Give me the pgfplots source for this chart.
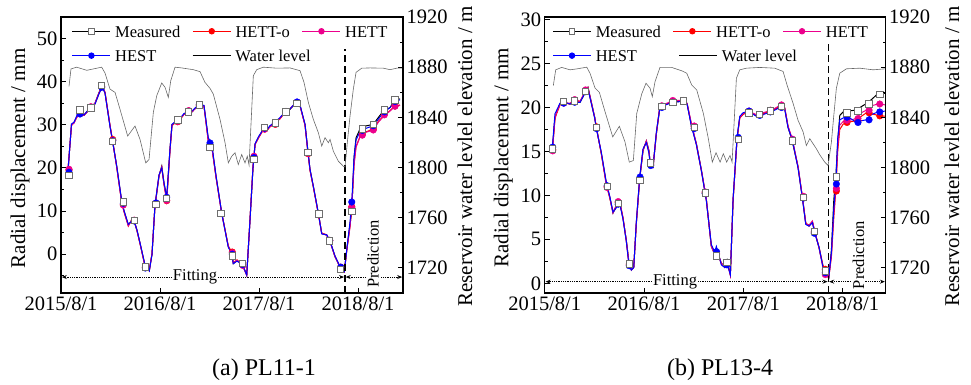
\documentclass[border=0pt]{standalone}
\usepackage{fontspec}
\setmainfont{Liberation Serif}
\usepackage{pgfplots}
\usepackage{pgfplotstable}
\pgfplotsset{compat=1.18}
\usetikzlibrary{arrows.meta}
\definecolor{wl}{RGB}{105,105,105}
\definecolor{sqedge}{RGB}{110,110,110}

\pgfplotstableread{
x meas hetto hett hest
0.85 19.5 19.6 19.7 19.2
1.27 30.0 29.8 29.9 30.2
1.58 30.5 30.6 30.4 30.6
1.94 32.0 31.8 31.9 32.2
2.30 32.8 32.5 32.6 32.5
2.79 32.2 32.3 32.2 32.3
3.27 33.2 33.3 33.2 33.4
3.64 34.0 34.0 34.2 33.9
4.12 35.0 34.9 35.0 34.8
4.61 37.5 37.3 37.4 37.2
4.97 39.0 38.8 38.9 38.7
5.33 37.5 37.6 37.5 37.4
5.94 29.7 29.9 29.8 29.6
6.24 26.3 26.6 26.4 26.3
6.75 20.4 20.2 20.3 20.5
7.36 12.2 12.0 11.9 12.3
7.64 10.0 9.8 9.9 10.1
8.16 6.8 6.5 6.6 6.9
8.48 7.6 7.7 7.6 7.5
8.85 7.9 7.8 7.9 7.7
9.21 5.5 5.4 5.5 5.6
9.58 2.5 2.4 2.5 2.6
10.18 -2.6 -2.8 -2.7 -2.5
10.70 -3.7 -3.9 -3.8 -3.9
11.03 0.0 0.2 0.1 -0.1
11.39 11.1 11.3 11.2 11.4
11.88 18.1 18.3 18.2 18.4
12.21 20.4 20.1 20.2 20.0
12.48 16.5 16.2 16.3 16.6
12.81 13.0 12.4 12.5 13.2
13.21 24.3 24.0 24.1 24.4
13.45 30.0 29.8 29.9 30.1
13.82 30.5 30.4 30.6 30.7
14.42 31.3 31.2 31.3 31.5
14.91 32.5 32.4 32.5 32.6
15.43 33.2 33.2 33.3 33.0
15.88 33.0 33.1 33.0 33.2
16.36 34.0 33.9 34.0 34.1
16.85 34.6 34.6 34.5 34.7
17.33 34.4 34.3 34.4 34.5
17.85 26.6 26.3 26.2 27.0
18.27 25.1 25.0 24.9 25.6
18.79 18.0 17.8 17.9 18.2
19.48 9.5 9.5 9.4 9.5
20.28 1.7 1.9 1.8 1.6
20.69 0.2 0.5 0.3 0.1
20.88 -2.2 -2.0 -2.1 -2.2
21.33 -1.5 -1.3 -1.4 -1.6
21.98 -2.2 -2.5 -2.6 -2.4
22.51 -4.9 -4.8 -4.9 -4.8
22.91 8.0 8.2 8.1 8.0
23.27 20.0 20.3 20.4 20.1
23.52 25.5 25.4 25.5 25.6
23.92 27.0 26.9 27.0 27.2
24.52 29.0 28.8 28.9 29.0
24.93 28.6 28.7 28.6 28.8
25.33 29.7 29.5 29.6 29.8
25.94 30.7 30.3 30.4 30.6
26.55 31.5 31.4 31.5 31.7
27.15 32.9 32.9 33.0 33.0
27.76 33.6 33.7 33.8 33.7
28.57 35.3 35.2 35.3 35.4
28.97 34.4 34.5 34.4 34.6
29.58 30.0 29.8 29.9 30.1
29.90 24.3 24.0 24.1 24.3
30.18 19.6 19.4 19.5 19.7
30.58 15.7 15.6 15.7 15.8
31.19 9.5 9.3 9.4 9.5
31.60 4.8 4.9 4.8 4.7
32.21 4.4 4.5 4.4 4.5
32.61 2.9 3.0 2.9 3.0
33.21 -0.6 -0.5 -0.6 -0.4
33.82 -3.0 -2.9 -3.0 -2.9
34.34 -4.1 -4.0 -4.1 -4.0
34.63 0.9 0.9 0.8 1.0
35.03 7.0 6.5 6.4 7.5
35.24 10.0 11.0 10.9 12.1
35.52 22.5 21.0 20.8 22.5
35.76 27.0 25.0 24.8 26.5
36.24 29.0 27.3 27.2 28.4
36.52 29.3 27.8 27.6 28.7
36.85 29.7 28.3 28.2 29.1
37.85 30.1 29.0 28.8 29.8
38.46 31.7 30.8 30.6 31.3
39.07 33.2 32.0 31.9 32.8
39.88 34.0 33.3 33.2 34.0
40.48 35.8 34.4 34.3 35.4
41.09 36.0 34.6 34.5 35.8
}\lineA

\pgfplotstableread{
x meas hetto hett hest
0.97 18.3 19.5 19.7 19.0
2.30 33.4 32.6 32.7 32.5
3.62 33.9 34.0 34.2 33.9
4.93 39.1 38.8 38.9 38.7
6.27 26.1 26.6 26.4 26.3
7.55 12.1 11.5 11.4 11.8
8.88 7.8 7.8 7.9 7.7
10.22 -3.0 -3.1 -3.0 -3.2
11.52 11.5 11.8 11.7 11.9
12.81 12.9 12.4 12.5 13.2
14.15 31.1 30.7 30.8 31.0
15.48 33.0 33.2 33.3 33.0
16.76 34.6 34.6 34.5 34.7
18.06 24.7 25.0 25.0 25.8
19.39 9.4 9.5 9.4 9.5
20.76 -0.4 0.5 0.3 0.0
22.02 -2.1 -2.5 -2.6 -2.4
23.39 22.0 22.6 22.7 22.4
24.69 29.4 29.0 29.0 29.2
25.98 30.4 30.1 30.2 30.4
27.27 33.0 33.0 33.1 33.1
28.61 35.0 35.2 35.2 35.3
29.94 23.6 23.3 23.4 23.6
31.27 9.3 9.1 9.2 9.3
32.57 3.1 3.2 3.1 3.2
33.90 -3.6 -3.0 -3.1 -3.0
35.24 9.9 11.0 10.8 12.1
36.52 29.0 27.8 27.6 28.7
37.85 30.1 29.0 28.8 29.8
39.19 33.4 32.5 32.3 33.0
40.48 35.8 34.4 34.3 35.4
}\markA

\pgfplotstableread{
x wl
0.97 1864.7
1.21 1878.6
1.90 1880.0
3.12 1877.5
3.92 1878.6
4.93 1880.0
5.33 1875.4
5.94 1862.5
6.55 1859.9
7.15 1846.5
8.08 1825.1
8.97 1833.1
9.58 1822.4
10.27 1803.7
10.67 1806.4
11.19 1843.9
11.60 1857.2
12.21 1867.4
12.61 1863.9
13.01 1855.9
13.30 1869.2
13.82 1880.0
14.63 1879.4
16.04 1878.0
16.85 1876.4
17.45 1867.9
18.06 1863.1
18.46 1858.5
19.27 1838.5
19.88 1819.8
20.28 1803.7
20.69 1809.0
21.09 1811.8
21.49 1802.4
21.90 1810.4
22.30 1803.7
22.58 1809.0
22.79 1802.0
23.31 1873.2
23.72 1878.0
24.52 1880.0
26.14 1879.2
27.76 1879.4
28.97 1877.2
29.45 1867.9
29.98 1851.9
30.58 1838.5
31.19 1827.8
31.60 1817.1
32.00 1823.8
32.40 1819.8
32.61 1822.4
33.01 1813.0
33.62 1805.0
34.22 1801.0
34.42 1800.5
34.70 1819.8
35.03 1841.1
35.43 1862.5
35.76 1875.9
36.45 1879.2
37.45 1879.4
39.07 1879.2
39.88 1878.0
40.69 1879.2
41.30 1879.2
}\waterA

\pgfplotstableread{
x meas hetto hett hest
0.92 15.2 15.0 14.9 15.4
1.24 18.9 18.7 18.8 19.3
1.40 19.3 19.2 19.3 19.6
1.85 20.45 20.3 20.4 20.5
2.33 20.6 20.5 20.5 20.6
3.06 20.4 20.4 20.5 20.4
3.63 20.7 20.8 20.9 20.6
4.27 20.6 20.7 20.7 20.6
4.95 21.8 21.9 22.0 21.8
5.23 22.3 22.2 22.3 22.1
6.04 18.9 18.8 18.9 18.8
6.24 17.7 17.8 17.7 17.6
6.84 14.8 14.7 14.8 14.9
7.44 11.4 11.3 11.2 11.5
7.86 9.8 9.7 9.8 9.9
8.25 8.0 8.1 8.0 8.1
8.65 8.7 8.8 8.9 8.6
9.06 9.2 9.3 9.3 9.1
9.46 7.4 7.5 7.4 7.3
9.86 4.9 4.8 4.9 4.8
10.19 2.3 2.1 2.2 2.0
10.47 1.7 1.5 1.6 1.5
10.76 1.9 1.8 1.9 1.8
11.07 6.8 6.9 6.8 7.0
11.48 11.9 12.0 11.9 12.1
11.88 15.1 15.2 15.1 15.3
12.28 16.2 16.1 16.2 16.0
12.60 15.1 14.9 15.0 14.8
12.76 13.4 13.5 13.6 13.4
13.09 13.25 13.3 13.2 13.2
13.49 17.0 17.1 17.0 17.2
13.90 19.9 20.0 20.1 19.9
14.30 20.3 20.2 20.3 20.2
15.51 20.6 20.7 20.8 20.6
16.71 20.75 20.8 20.8 20.7
17.20 20.45 20.4 20.5 20.4
17.72 18.0 18.1 18.2 17.9
18.32 15.9 15.8 15.9 15.8
18.93 12.9 12.8 12.9 12.8
19.53 9.5 9.5 9.6 9.4
20.13 4.2 4.3 4.2 4.4
20.54 3.3 3.4 3.3 3.6
20.74 4.0 3.9 3.8 4.2
21.34 2.3 2.2 2.3 2.1
21.75 1.9 1.8 1.9 1.8
22.03 2.65 2.5 2.4 2.3
22.43 0.95 1.0 0.9 1.0
22.76 9.5 9.4 9.5 9.6
23.24 16.5 16.4 16.5 16.6
23.57 18.9 18.8 18.9 19.0
23.96 19.3 19.2 19.3 19.4
24.57 19.5 19.5 19.6 19.6
25.57 19.1 19.1 19.2 19.0
26.38 19.3 19.3 19.4 19.2
27.38 19.6 19.6 19.7 19.5
28.59 20.3 20.2 20.3 20.1
29.00 19.9 19.9 20.0 19.8
29.40 17.8 17.8 17.9 17.7
29.92 16.1 16.3 16.4 16.3
30.61 13.25 13.2 13.3 13.1
31.13 9.8 9.8 9.9 9.7
31.54 6.8 6.9 6.8 6.7
31.94 6.6 6.5 6.6 6.5
32.34 7.0 7.0 7.1 6.9
32.63 5.9 5.8 5.9 5.7
33.15 4.0 4.1 4.0 4.1
33.63 1.9 2.0 1.7 1.8
34.03 1.1 1.3 0.9 1.0
34.32 0.6 0.7 0.6 0.7
34.64 3.8 3.0 3.2 3.5
34.93 9.5 7.5 8.0 8.5
35.17 12.1 10.5 10.8 11.3
35.40 16.0 15.0 15.5 16.5
35.65 19.1 17.5 18.0 18.6
36.05 19.5 18.1 18.4 18.8
36.45 19.6 18.3 18.55 18.9
37.05 19.65 18.4 18.6 18.7
37.66 19.7 18.5 18.75 18.3
38.25 20.1 19.0 19.4 18.5
38.87 20.45 19.4 19.7 18.6
39.47 20.9 19.3 20.2 19.2
40.28 21.6 19.1 20.4 19.5
41.20 21.6 19.0 20.3 19.6
}\lineB

\pgfplotstableread{
x meas hetto hett hest
0.97 15.3 15.2 15.07 15.5
2.30 20.7 20.6 20.5 20.5
3.62 20.75 20.8 20.9 20.6
4.93 21.8 21.9 22.0 21.8
6.27 17.7 17.8 17.7 17.6
7.55 11.0 11.0 10.9 11.1
8.88 9.1 9.2 9.3 9.0
10.22 2.2 2.1 2.2 2.0
11.52 11.7 11.9 11.8 12.1
12.81 13.7 13.5 13.6 13.4
14.15 20.1 20.1 20.2 20.0
15.48 20.6 20.7 20.8 20.6
16.76 20.75 20.8 20.8 20.7
18.06 17.7 17.8 17.9 17.6
19.39 10.3 10.3 10.4 10.2
20.76 3.1 3.4 3.3 3.6
22.02 2.4 2.3 2.2 2.1
23.39 16.4 16.4 16.5 16.6
24.69 19.4 19.5 19.6 19.6
25.98 19.2 19.2 19.2 19.1
27.27 19.6 19.6 19.7 19.5
28.61 20.1 20.2 20.3 20.0
29.94 16.2 16.3 16.4 16.3
31.27 9.8 9.8 9.9 9.7
32.57 5.9 5.8 5.9 5.7
33.90 1.4 1.6 1.0 1.2
35.24 12.1 10.5 10.8 11.3
36.52 19.4 18.3 18.55 18.9
37.85 19.6 18.5 18.75 18.3
39.19 20.4 19.4 19.7 18.6
40.48 21.5 19.05 20.4 19.5
}\markB

\pgfplotstableread{
x wl
1.04 1865.3
1.33 1877.9
2.05 1879.8
3.06 1877.9
3.94 1878.7
5.08 1880.0
5.47 1875.2
6.08 1863.4
6.60 1860.0
7.29 1844.5
8.22 1824.4
9.02 1832.9
9.70 1820.4
10.22 1804.3
10.71 1805.6
11.12 1843.1
11.72 1858.6
12.24 1867.2
12.73 1863.2
13.00 1856.5
13.33 1868.5
13.93 1879.8
15.35 1879.8
16.56 1877.1
17.16 1875.2
17.76 1865.8
18.37 1861.8
19.17 1843.1
19.77 1823.0
20.25 1804.3
20.70 1811.8
21.19 1804.3
21.58 1811.0
21.99 1804.3
22.39 1809.6
22.64 1804.3
23.16 1871.2
23.57 1877.9
24.36 1879.2
25.98 1879.8
27.80 1879.2
28.80 1876.6
29.28 1865.8
30.01 1851.1
30.61 1837.7
31.22 1828.4
31.61 1817.6
32.03 1823.0
32.42 1819.0
32.82 1815.0
33.23 1810.2
33.84 1804.3
34.24 1801.6
34.64 1820.4
34.93 1841.7
35.24 1863.2
35.65 1875.2
36.45 1878.7
38.07 1879.2
39.68 1877.9
41.15 1878.7
}\waterB

\pgfplotsset{
  common/.style={
    scale only axis, width=342pt, height=276pt,
    xmin=0,
    /pgf/number format/assume math mode=true,
    /pgf/number format/1000 sep={},
    tick label style={font=\fontsize{20.5}{24}\selectfont},
    label style={font=\fontsize{21}{25}\selectfont},
    major tick length=5pt, minor tick length=3pt,
    tick align=inside,
    every tick/.style={black, line width=0.9pt},
    axis line style={line width=1.3pt},
    clip=false,
    legend cell align=left,
  },
  mainax/.style={
    common,
    xtick={0,12,24,36},
    xticklabels={2015/8/1,2016/8/1,2017/8/1,2018/8/1},
    xtick pos=bottom, ytick pos=left,
    ylabel={Radial displacement / mm},
    legend columns=3,
  },
  waterax/.style={
    common,
    axis x line=none, axis y line*=right,
    ymin=1700, ymax=1920,
    ytick={1720,1760,1800,1840,1880,1920},
    minor ytick={1700,1740,1780,1820,1860,1900},
    ylabel={Reservoir water levlel elevation / m},
  },
  legsty/.style={draw=none, fill=none, inner sep=0pt,
    font=\fontsize{16.5}{19}\selectfont, row sep=11.9pt,
    nodes={inner sep=0pt, text height=12.5pt, text depth=0pt},
    /tikz/every odd column/.append style={column sep=4.3pt},
    /tikz/every even column/.append style={column sep=12pt}},
  lmeas/.style={black, line width=1pt},
  lhetto/.style={red, line width=1pt},
  lhett/.style={magenta, line width=1pt},
  lhest/.style={blue, line width=1pt},
  smeas/.style={only marks, mark=square*, mark size=3.2pt, mark options={fill=white, draw=sqedge, line width=0.9pt}},
  shetto/.style={only marks, mark=*, mark size=3.3pt, mark options={fill=red, draw=red}},
  shett/.style={only marks, mark=*, mark size=3.3pt, mark options={fill=magenta, draw=magenta}},
  shest/.style={only marks, mark=*, mark size=3.3pt, mark options={fill=blue, draw=blue}},
}

\begin{document}
\begin{tikzpicture}
\useasboundingbox (0pt,0pt) rectangle (971pt,385pt);

% ---------------- (a) ----------------
\begin{axis}[mainax, at={(61pt,92pt)}, anchor=south west,
  xmax=41.45, ymin=-9, ymax=55,
  ytick={0,10,...,50}, minor ytick={-5,5,15,25,35,45,55},
  ylabel style={at={(axis description cs:-0.12,0.488)}, anchor=center},
  legend style={legsty, at={(axis description cs:0.0313,0.9717)}, anchor=north west},
  legend image code/.code={\draw[mark repeat=2,mark phase=2,#1] plot coordinates {(0pt,0pt) (19pt,0pt) (38pt,0pt)};},
]
\addlegendimage{lmeas, mark=square*, mark size=2.8pt, mark options={fill=white, draw=sqedge, line width=0.8pt}}
\addlegendentry{Measured}
\addlegendimage{lhetto, mark=*, mark size=2.7pt, mark options={fill=red}}
\addlegendentry{HETT-o}
\addlegendimage{lhett, mark=*, mark size=2.7pt, mark options={fill=magenta}}
\addlegendentry{HETT}
\addlegendimage{lhest, mark=*, mark size=2.7pt, mark options={fill=blue}}
\addlegendentry{HEST}
\addplot[lmeas, forget plot] table[x=x, y=meas] {\lineA};
\addplot[lhetto, forget plot] table[x=x, y=hetto] {\lineA};
\addplot[lhett, forget plot] table[x=x, y=hett] {\lineA};
\addplot[lhest, forget plot] table[x=x, y=hest] {\lineA};
\addplot[shetto, forget plot] table[x=x, y=hetto] {\markA};
\addplot[shett, forget plot] table[x=x, y=hett] {\markA};
\addplot[shest, forget plot] table[x=x, y=hest] {\markA};
\addplot[smeas, forget plot] table[x=x, y=meas] {\markA};
\draw[black, line width=1.6pt, dash pattern=on 7pt off 4pt] (axis cs:34.4,-9) -- (axis cs:34.4,47.6);
\draw[black, line width=0.8pt, densely dotted, {Stealth[length=5pt,width=4pt]}-{Stealth[length=5pt,width=4pt]}] (axis cs:0.1,-5.3) -- (axis cs:34.3,-5.3);
\draw[black, line width=0.8pt, densely dotted, {Stealth[length=5pt,width=4pt]}-{Stealth[length=5pt,width=4pt]}] (axis cs:34.5,-5.3) -- (axis cs:41.35,-5.3);
\node[fill=white, inner sep=1pt, font=\fontsize{16.5}{19}\selectfont] at (axis cs:16.24,-5.3) {Fitting};
\node[fill=white, inner sep=1pt, rotate=90, font=\fontsize{16.5}{19}\selectfont] at (axis cs:37.8,0.04) {Prediction};
\end{axis}

\begin{axis}[waterax, at={(61pt,92pt)}, anchor=south west,
  xmax=41.45,
  ylabel style={at={(axis description cs:1.181,0.494)}, anchor=center},
  legend style={legsty, at={(axis description cs:0.383,0.8833)}, anchor=north west},
  legend image code/.code={\draw[#1] plot coordinates {(0pt,0pt) (38pt,0pt)};},
]
\addlegendimage{black, line width=1pt}
\addlegendentry{Water level}
\addplot[wl, line width=0.6pt, forget plot] table[x=x, y=wl] {\waterA};
\end{axis}

% ---------------- (b) ----------------
\begin{axis}[mainax, at={(544.7pt,92pt)}, anchor=south west, width=341pt,
  xmax=41.2, ymin=-1.1, ymax=30.3,
  ytick={0,5,...,30}, minor ytick={2.5,7.5,12.5,17.5,22.5,27.5},
  ylabel style={at={(axis description cs:-0.121,0.49)}, anchor=center},
  legend style={legsty, at={(axis description cs:0.0223,0.9717)}, anchor=north west},
  legend image code/.code={\draw[mark repeat=2,mark phase=2,#1] plot coordinates {(0pt,0pt) (19pt,0pt) (38pt,0pt)};},
]
\addlegendimage{lmeas, mark=square*, mark size=2.8pt, mark options={fill=white, draw=sqedge, line width=0.8pt}}
\addlegendentry{Measured}
\addlegendimage{lhetto, mark=*, mark size=2.7pt, mark options={fill=red}}
\addlegendentry{HETT-o}
\addlegendimage{lhett, mark=*, mark size=2.7pt, mark options={fill=magenta}}
\addlegendentry{HETT}
\addlegendimage{lhest, mark=*, mark size=2.7pt, mark options={fill=blue}}
\addlegendentry{HEST}
\addplot[lmeas, forget plot] table[x=x, y=meas] {\lineB};
\addplot[lhetto, forget plot] table[x=x, y=hetto] {\lineB};
\addplot[lhett, forget plot] table[x=x, y=hett] {\lineB};
\addplot[lhest, forget plot] table[x=x, y=hest] {\lineB};
\addplot[shetto, forget plot] table[x=x, y=hetto] {\markB};
\addplot[shett, forget plot] table[x=x, y=hett] {\markB};
\addplot[shest, forget plot] table[x=x, y=hest] {\markB};
\addplot[smeas, forget plot] table[x=x, y=meas] {\markB};
\draw[black, line width=1.6pt, dash pattern=on 7pt off 4pt] (axis cs:34.27,-1.1) -- (axis cs:34.27,27.4);
\draw[black, line width=0.8pt, densely dotted, {Stealth[length=5pt,width=4pt]}-{Stealth[length=5pt,width=4pt]}] (axis cs:0.1,0.19) -- (axis cs:34.17,0.19);
\draw[black, line width=0.8pt, densely dotted, {Stealth[length=5pt,width=4pt]}-{Stealth[length=5pt,width=4pt]}] (axis cs:34.37,0.19) -- (axis cs:41.1,0.19);
\node[fill=white, inner sep=1pt, font=\fontsize{16.5}{19}\selectfont] at (axis cs:15.75,0.19) {Fitting};
\node[fill=white, inner sep=1pt, rotate=90, font=\fontsize{16.5}{19}\selectfont] at (axis cs:37.9,3.2) {Prediction};
\end{axis}

\begin{axis}[waterax, at={(544.7pt,92pt)}, anchor=south west, width=341pt,
  xmax=41.2,
  ylabel style={at={(axis description cs:1.194,0.494)}, anchor=center},
  legend style={legsty, at={(axis description cs:0.392,0.8833)}, anchor=north west},
  legend image code/.code={\draw[#1] plot coordinates {(0pt,0pt) (38pt,0pt)};},
]
\addlegendimage{black, line width=1pt}
\addlegendentry{Water level}
\addplot[wl, line width=0.6pt, forget plot] table[x=x, y=wl] {\waterB};
\end{axis}

\node[font=\fontsize{24}{28}\selectfont] at (264pt,15pt) {(a) PL11-1};
\node[font=\fontsize{24}{28}\selectfont] at (720pt,15pt) {(b) PL13-4};
\end{tikzpicture}
\end{document}
